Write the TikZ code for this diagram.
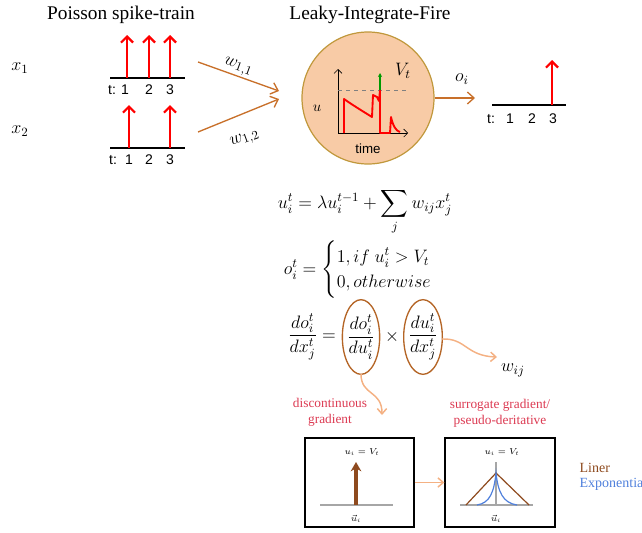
\RequirePackage{fix-cm}
\documentclass[tikz,border=0pt]{standalone}
\usepackage{amsmath}
\usepackage{fontspec}
\setmainfont{Liberation Serif}
\setsansfont{Liberation Sans}
\usetikzlibrary{arrows.meta}
\definecolor{synor}{HTML}{C8702A}
\definecolor{cellfill}{HTML}{F8CBA6}
\definecolor{cellline}{HTML}{C0983C}
\definecolor{softor}{HTML}{F4B183}
\definecolor{notered}{HTML}{DC3A52}
\definecolor{linbrown}{HTML}{8E4A1E}
\definecolor{expblue}{HTML}{4F80DC}
\begin{document}
\begin{tikzpicture}[x=0.75pt, y=-0.75pt, every node/.style={inner sep=1pt},
	spike/.style={red, line width=1.7pt, -{Straight Barb[length=4.5pt,width=9pt]}},
	syn/.style={synor, line width=1pt, -{Straight Barb[length=5pt,width=9pt]}},
	soft/.style={softor, line width=1.1pt, -{Straight Barb[length=4pt,width=7pt]}},
	tlab/.style={font=\sffamily\fontsize{10.5}{12}\selectfont},
	big/.style={font=\fontsize{13.5}{16}\selectfont},
	note/.style={text=notered, align=center, font=\fontsize{10}{12}\selectfont},
	tiny/.style={font=\fontsize{6.5}{8}\selectfont}]
	\useasboundingbox (0,0) rectangle (642,532);
	\node[font=\fontsize{14.5}{17}\selectfont] (pst) at (121,15) {Poisson spike-train};
	\node[font=\fontsize{14.5}{17}\selectfont] (lift) at (370,15) {Leaky-Integrate-Fire};
	\node[big] (x1) at (20,68) {$x_1$};
	\node[big] (x2) at (20,131) {$x_2$};
	% input trains
	\draw[line width=1.6pt] (110,78) -- (185,78);
	\draw[line width=1.6pt] (110,148) -- (185,148);
	\foreach \s in {127,149,170} \draw[spike] (\s,78) -- (\s,35);
	\foreach \s in {129,170} \draw[spike] (\s,148) -- (\s,105);
	\node[tlab] (ta1) at (112,90) {t:};
	\foreach \s/\t in {125/1,149/2,170/3} \node[tlab] (ta\t) at (\s,90) {\t};
	\node[tlab] (tb1) at (113,160) {t:};
	\foreach \s/\t in {129/1,149/2,170/3} \node[tlab] (tb\t) at (\s,160) {\t};
	% synapses
	\coordinate (s1) at (198,62);
	\coordinate (s1e) at (279,91);
	\coordinate (s2) at (198,132);
	\coordinate (s2e) at (279,99);
	\draw[syn] (s1) -- (s1e);
	\draw[syn] (s2) -- (s2e);
	\node[big, rotate=-20] (w11) at (238,67) {$w_{1,1}$};
	\node[big, rotate=20] (w12) at (245,139) {$w_{1,2}$};
	% neuron
	\node[circle, draw=cellline, fill=cellfill, line width=0.9pt, minimum size=99pt] (lif) at (368,98) {};
	\draw[-{Straight Barb[length=3pt,width=6pt]}] (338,133) -- (338,69);
	\draw[-{Straight Barb[length=3pt,width=6pt]}] (338,133) -- (408,133);
	\draw[gray, dashed, line width=0.7pt] (338,90) -- (408,90);
	\draw[red, line width=1.4pt, line join=round] (344,133) -- (344,99) .. controls (354,106) and (364,112) .. (372,117)
		-- (373,95) -- (377,97) -- (379,101) -- (380,90) -- (380,133) -- (390,133) -- (391,117)
		.. controls (393,126) and (396,131) .. (400,132);
	\draw[green!60!black, line width=0.8pt, -{Stealth[length=3pt,width=3pt]}] (380,90) -- (380,73);
	\node[font=\fontsize{11}{13}\selectfont] (ulab) at (317,108) {$u$};
	\node[font=\sffamily\fontsize{10}{12}\selectfont] (time) at (368,149) {time};
	\node[big] (vt) at (403,71) {$V_t$};
	% output
	\coordinate (oend) at (475,98);
	\draw[syn] (lif.east) -- (oend);
	\node[big] (oi) at (462,79) {$o_i$};
	\draw[line width=1.6pt] (492,105) -- (566,105);
	\draw[spike] (552,105) -- (552,60);
	\node[tlab] (tc1) at (491,119) {t:};
	\foreach \s/\t in {510/1,532/2,553/3} \node[tlab] (tc\t) at (\s,119) {\t};
	% equations
	\node[big] (eq1) at (365,212) {$\displaystyle u_i^t=\lambda u_i^{t-1}+\sum_j w_{ij}x_j^t$};
	\node[big] (eq2) at (367,270) {$o_i^t=\begin{cases}1, if\ u_i^t>V_t\\0, otherwise\end{cases}$};
	\node[big] (lhs) at (312,337) {$\dfrac{do_i^t}{dx_j^t}=$};
	\node[big] (f1) at (361,337) {$\dfrac{do_i^t}{du_i^t}$};
	\node[big] (tm) at (392,337) {$\times$};
	\node[big] (f2) at (423,337) {$\dfrac{du_i^t}{dx_j^t}$};
	\draw[synor!90!black, line width=1pt] (f1.center) ellipse [x radius=14pt, y radius=28pt];
	\draw[synor!90!black, line width=1pt] (f2.center) ellipse [x radius=14.5pt, y radius=28pt];
	\node[big] (wij) at (513,370) {$w_{ij}$};
	\coordinate (f2r) at (442,339);
	\coordinate (f1b) at (361,374);
	\coordinate (wtip) at (497,357);
	\coordinate (gtip) at (382,415);
	\draw[soft] (f2r) .. controls (466,338) and (466,356) .. (wtip);
	\draw[soft] (f1b) .. controls (361,396) and (382,390) .. (gtip);
	% gradients
	\node[note] (dg) at (330,412) {discontinuous\\gradient};
	\node[note] (sg) at (500,413) {surrogate gradient/\\pseudo-deritative};
	\node[draw, line width=1pt, minimum width=81.75pt, minimum height=66.75pt] (g1) at (359.5,482.5) {};
	\node[draw, line width=1pt, minimum width=82.5pt, minimum height=66.75pt] (g2) at (500,482.5) {};
	\draw[soft] (g1.east) -- (g2.west);
	\node[tiny] (th1) at (362,452) {$u_i=V_t$};
	\draw[gray!70, line width=0.8pt] (320,505) -- (393,505);
	\draw[linbrown, line width=2.4pt, -{Stealth[length=7pt,width=8pt]}] (356,505) -- (356,462);
	\node[tiny] (ux1) at (356,519) {$\vec{u}_i$};
	\node[tiny] (th2) at (502,452) {$u_i=V_t$};
	\draw[gray!70, line width=0.8pt] (496,462) -- (496,505);
	\draw[gray!70, line width=0.8pt] (460,505) -- (533,505);
	\draw[linbrown, line width=0.9pt] (466,505) -- (496,473) -- (529,505);
	\draw[expblue, line width=0.9pt] (477,505) .. controls (490,503) and (494,492) .. (496,473)
		.. controls (498,492) and (503,503) .. (517,505);
	\node[tiny] (ux2) at (496,519) {$\vec{u}_i$};
	\node[anchor=west, text=linbrown, font=\fontsize{10.5}{12}\selectfont] (lin) at (578,468) {Liner};
	\node[anchor=west, text=expblue, font=\fontsize{10.5}{12}\selectfont] (expo) at (578,484) {Exponential};
\end{tikzpicture}
\end{document}
